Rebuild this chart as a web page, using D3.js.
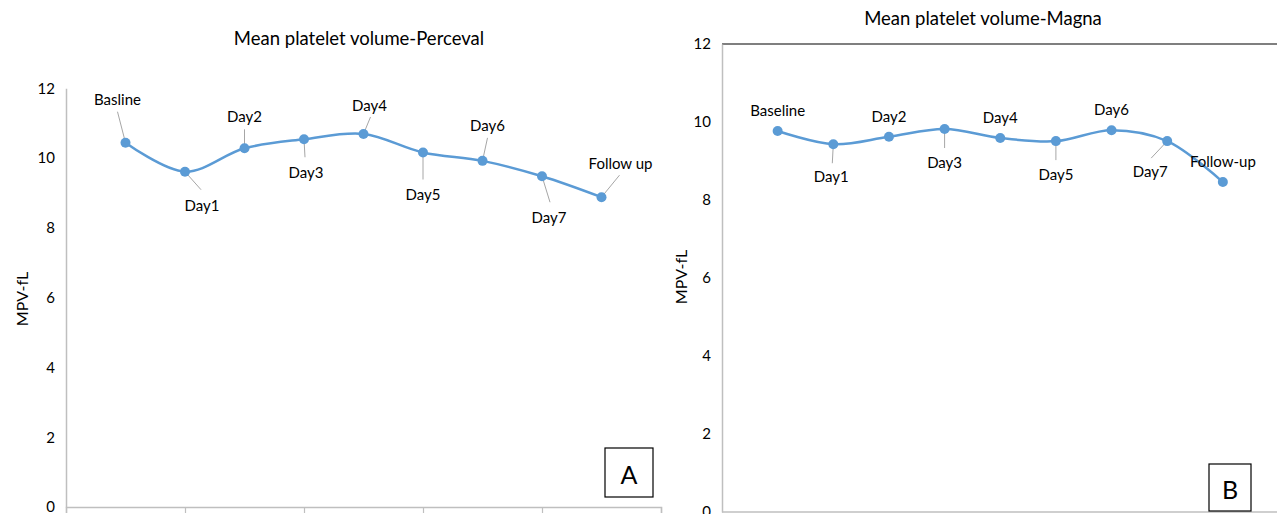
<!DOCTYPE html>
<html>
<head>
<meta charset="utf-8">
<script src="https://cdn.jsdelivr.net/npm/d3@7"></script>
<style>
  body { margin: 0; background: #fff; }
  svg { display: block; }
  text { font-family: Lato, "Open Sans", sans-serif; fill: #000; }
</style>
</head>
<body>
<script>
// --- Data ---
const categoriesA = ["Basline", "Day1", "Day2", "Day3", "Day4", "Day5", "Day6", "Day7", "Follow up"];
const valuesA = [10.44, 9.61, 10.28, 10.54, 10.69, 10.16, 9.92, 9.48, 8.88];
const categoriesB = ["Baseline", "Day1", "Day2", "Day3", "Day4", "Day5", "Day6", "Day7", "Follow-up"];
const valuesB = [9.77, 9.43, 9.62, 9.82, 9.59, 9.51, 9.79, 9.51, 8.46];
const yTicks = [0, 2, 4, 6, 8, 10, 12];
const xTicks = [0, 2, 4, 6, 8, 10];

// label offsets from the point: [text dx, text dy, leader dx, leader dy] (null = no leader)
const labelPosA = [
  [-8, -44, -8, -31], [17, 33, 16, 18], [0, -32, 0, -19], [2, 33, 1, 18], [6, -29, 7, -17],
  [0, 41, 0, 27], [5, -36, 5, -23], [7, 41, 8, 26], [19, -34, 18, -22]
];
const labelPosB = [
  [0, -21, null, null], [-2, 32, -1, 19], [0, -21, null, null], [0, 33, 0, 19], [0, -21, null, null],
  [0, 33, 0, 19], [0, -21, null, null], [-17, 30, -16, 17], [0, -21, null, null]
];

const W = 1277, H = 514;
const BLUE = "#5b9bd5", AXIS = "#bfbfbf";

const svg = d3.select("body").append("svg")
  .attr("width", W).attr("height", H);

function drawPanel(p) {
  const x = d3.scaleLinear().domain([0, 10]).range([p.x0, p.x1]);
  const y = d3.scaleLinear().domain([0, 12]).range([p.y0, p.y1]);
  const g = svg.append("g");

  // title
  g.append("text")
    .attr("x", p.titleX).attr("y", p.titleY)
    .attr("text-anchor", "middle")
    .attr("font-size", 18.5)
    .text(p.title);

  // y axis label
  g.append("text")
    .attr("transform", `translate(${p.ylabX},${p.ylabY}) rotate(-90)`)
    .attr("text-anchor", "middle")
    .attr("dominant-baseline", "central")
    .attr("font-size", 16)
    .text("MPV-fL");

  // top border (panel B only)
  if (p.topBorder) {
    g.append("line")
      .attr("x1", p.x0).attr("x2", W)
      .attr("y1", y(12)).attr("y2", y(12))
      .attr("stroke", "#000").attr("stroke-width", 1.2);
  }

  // y axis
  const yAxis = g.append("g")
    .attr("transform", `translate(${p.x0},0)`)
    .call(d3.axisLeft(y).tickValues(yTicks).tickSize(0).tickPadding(11).tickFormat(d3.format("d")));
  yAxis.select(".domain").attr("stroke", AXIS).attr("stroke-width", 1.5);
  yAxis.selectAll("text").attr("font-size", 15).attr("font-family", "Lato, 'Open Sans', sans-serif").attr("fill", "#000");

  // x axis
  const xAxis = g.append("g")
    .attr("transform", `translate(0,${p.y0})`)
    .call(d3.axisBottom(x).tickValues(xTicks).tickSize(p.tickLen).tickSizeOuter(p.tickLen).tickFormat(""));
  xAxis.select(".domain").attr("stroke", AXIS).attr("stroke-width", 1.5);
  xAxis.selectAll(".tick line").attr("stroke", AXIS).attr("stroke-width", 1.2);
  if (p.x1 > W) xAxis.select(".domain").attr("d", `M${p.x0},0H${W}`);

  const pts = p.values.map((v, i) => ({ x: x(i + 1), y: y(v), name: p.cats[i], pos: p.labels[i] }));

  // leader lines
  g.selectAll(".leader")
    .data(pts.filter(d => d.pos[2] !== null))
    .enter().append("line")
    .attr("x1", d => d.x).attr("y1", d => d.y)
    .attr("x2", d => d.x + d.pos[2]).attr("y2", d => d.y + d.pos[3])
    .attr("stroke", "#a6a6a6").attr("stroke-width", 1);

  // smoothed line
  const line = d3.line().x(d => d.x).y(d => d.y).curve(d3.curveCatmullRom.alpha(0.5));
  g.append("path")
    .datum(pts)
    .attr("d", line)
    .attr("fill", "none")
    .attr("stroke", BLUE)
    .attr("stroke-width", 2.5);

  // markers
  g.selectAll(".pt")
    .data(pts)
    .enter().append("circle")
    .attr("cx", d => d.x).attr("cy", d => d.y)
    .attr("r", 5)
    .attr("fill", BLUE);

  // data labels
  g.selectAll(".lbl")
    .data(pts)
    .enter().append("text")
    .attr("x", d => d.x + d.pos[0])
    .attr("y", d => d.y + d.pos[1])
    .attr("text-anchor", "middle")
    .attr("dominant-baseline", "central")
    .attr("font-size", 15)
    .text(d => d.name);

  // panel letter box
  g.append("rect")
    .attr("x", p.box[0]).attr("y", p.box[1])
    .attr("width", p.box[2]).attr("height", p.box[3])
    .attr("fill", "#fff").attr("stroke", "#000").attr("stroke-width", 1.2);
  g.append("text")
    .attr("x", p.box[0] + p.box[2] / 2).attr("y", p.box[1] + p.box[3] / 2 + 1)
    .attr("text-anchor", "middle")
    .attr("dominant-baseline", "central")
    .attr("font-size", 25)
    .text(p.letter);
}

drawPanel({
  title: "Mean platelet volume-Perceval", titleX: 359, titleY: 45,
  ylabX: 21, ylabY: 299,
  x0: 66, x1: 661, y0: 507, y1: 88.3,
  cats: categoriesA, values: valuesA, labels: labelPosA,
  tickLen: 6, topBorder: false,
  box: [605, 448, 48, 49], letter: "A"
});

drawPanel({
  title: "Mean platelet volume-Magna", titleX: 983, titleY: 25,
  ylabX: 680, ylabY: 277,
  x0: 722, x1: 1278.5, y0: 512, y1: 44,
  cats: categoriesB, values: valuesB, labels: labelPosB,
  tickLen: 0, topBorder: true,
  box: [1209, 464, 42, 47], letter: "B"
});
</script>
</body>
</html>
